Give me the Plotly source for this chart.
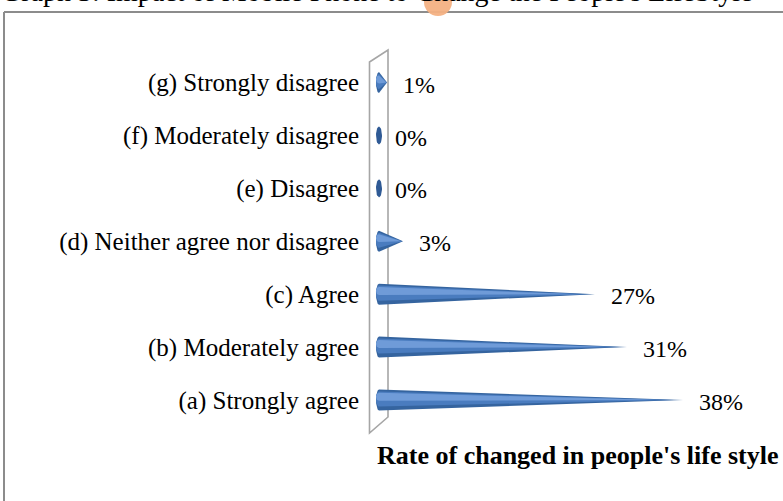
import plotly.graph_objects as go
import numpy as np

# ---- data ----
categories = ["(a) Strongly agree", "(b) Moderately agree", "(c) Agree",
              "(d) Neither agree nor disagree", "(e) Disagree",
              "(f) Moderately disagree", "(g) Strongly disagree"]
values = [38, 31, 27, 3, 0, 0, 1]
labels = ["38%", "31%", "27%", "3%", "0%", "0%", "1%"]
axis_title = "Rate of changed in people's life style"
chart_title = "Graph 3: Impact of Mobile Phone to Change the People's LifeStyle"

W, H = 783, 501
L, R, T, B = 360, 0, 40, 41
PX_PER_X = 8.0
PX_PER_Y = 52.9
ZERO_PX = 379
A_PX = 400
x0 = (L - ZERO_PX) / PX_PER_X
x1 = (W - R - ZERO_PX) / PX_PER_X
y_top = (A_PX - T) / PX_PER_Y
y_bot = (A_PX - (H - B)) / PX_PER_Y

half_h = 10.5 / PX_PER_Y     # cone base half-height (y units)
rx = 3.0 / PX_PER_X          # base ellipse half-width (x units)

fig = go.Figure()

def cone(i, v, scale, dy, color):
    t = np.linspace(np.pi / 2, 3 * np.pi / 2, 25)
    h = half_h * scale
    xs = list(rx * np.cos(t))
    ys = list(i + dy + h * np.sin(t))
    xs += [v, xs[0]]
    ys += [i, ys[0]]
    fig.add_trace(go.Scatter(x=xs, y=ys, mode="lines", fill="toself",
                             fillcolor=color, line=dict(width=0, color=color),
                             hoverinfo="skip", showlegend=False))

def ellipse(i, color):
    t = np.linspace(0, 2 * np.pi, 40)
    fig.add_trace(go.Scatter(x=list(rx * np.cos(t)), y=list(i + half_h * 0.85 * np.sin(t)),
                             mode="lines", fill="toself", fillcolor=color,
                             line=dict(width=0, color=color), hoverinfo="skip",
                             showlegend=False))

for i, v in enumerate(values):
    if v <= 0:
        ellipse(i, "#2F5A95")
        continue
    cone(i, v, 1.0, 0.0, "#35649F")
    cone(i, v * 0.97, 0.72, 0.02, "#4A7CBF")
    cone(i, v * 0.93, 0.38, 0.06, "#6F9BD8")

# wall (decorative back panel)
wall = dict(type="path", xref="x", yref="y",
            path="M {a},{b} L {c},{d} L {e},{f} L {g},{h} Z".format(
                a=(369.5 - ZERO_PX) / PX_PER_X, b=(A_PX - 62) / PX_PER_Y,
                c=(388 - ZERO_PX) / PX_PER_X, d=(A_PX - 50) / PX_PER_Y,
                e=(388 - ZERO_PX) / PX_PER_X, f=(A_PX - 417) / PX_PER_Y,
                g=(369.5 - ZERO_PX) / PX_PER_X, h=(A_PX - 433) / PX_PER_Y),
            line=dict(color="#A6A6A6", width=1.6), fillcolor="rgba(0,0,0,0)", layer="below")

def px_x(px):
    return (px - L) / (W - L - R)

def px_y(py):
    return (H - B - py) / (H - T - B)

shapes = [wall,
          dict(type="line", xref="paper", yref="paper", x0=px_x(4), x1=px_x(4),
               y0=px_y(12), y1=px_y(520), line=dict(color="#8C8C8C", width=2)),
          dict(type="line", xref="paper", yref="paper", x0=px_x(4), x1=px_x(800),
               y0=px_y(12), y1=px_y(12), line=dict(color="#8C8C8C", width=2)),
          ]

annotations = []
for i, (v, lab) in enumerate(zip(values, labels)):
    annotations.append(dict(x=v, y=i, xref="x", yref="y", text=lab, showarrow=False,
                            xanchor="left", yanchor="middle", xshift=14, yshift=-2,
                            font=dict(family="Liberation Serif", size=24, color="black")))
annotations.append(dict(x=px_x(577.5), y=px_y(455), xref="paper", yref="paper",
                        text="<b>" + axis_title + "</b>", showarrow=False,
                        xanchor="center", yanchor="middle",
                        font=dict(family="Liberation Serif", size=26, color="black")))
annotations.append(dict(x=px_x(-1), y=px_y(-8), xref="paper", yref="paper",
                        text=chart_title, showarrow=False, xanchor="left", yanchor="middle",
                        font=dict(family="Liberation Serif", size=28, color="black")))

shapes.append(dict(type="circle", xref="paper", yref="paper",
                   x0=px_x(424), x1=px_x(452), y0=px_y(16), y1=px_y(-12),
                   fillcolor="rgba(244,177,131,0.95)", line=dict(width=0), layer="above"))

fig.update_layout(
    width=W, height=H,
    margin=dict(l=L, r=R, t=T, b=B),
    paper_bgcolor="white", plot_bgcolor="white",
    showlegend=False,
    xaxis=dict(range=[x0, x1], visible=False, fixedrange=True),
    yaxis=dict(range=[y_bot, y_top], tickvals=list(range(len(categories))),
               ticktext=categories, showgrid=False, zeroline=False, showline=False,
               ticks="", tickfont=dict(family="Liberation Serif", size=25, color="black"),
               fixedrange=True),
    shapes=shapes,
    annotations=annotations,
)

fig.write_html("out.html", config={"displayModeBar": False},
               post_script="document.body.style.margin='0';")
